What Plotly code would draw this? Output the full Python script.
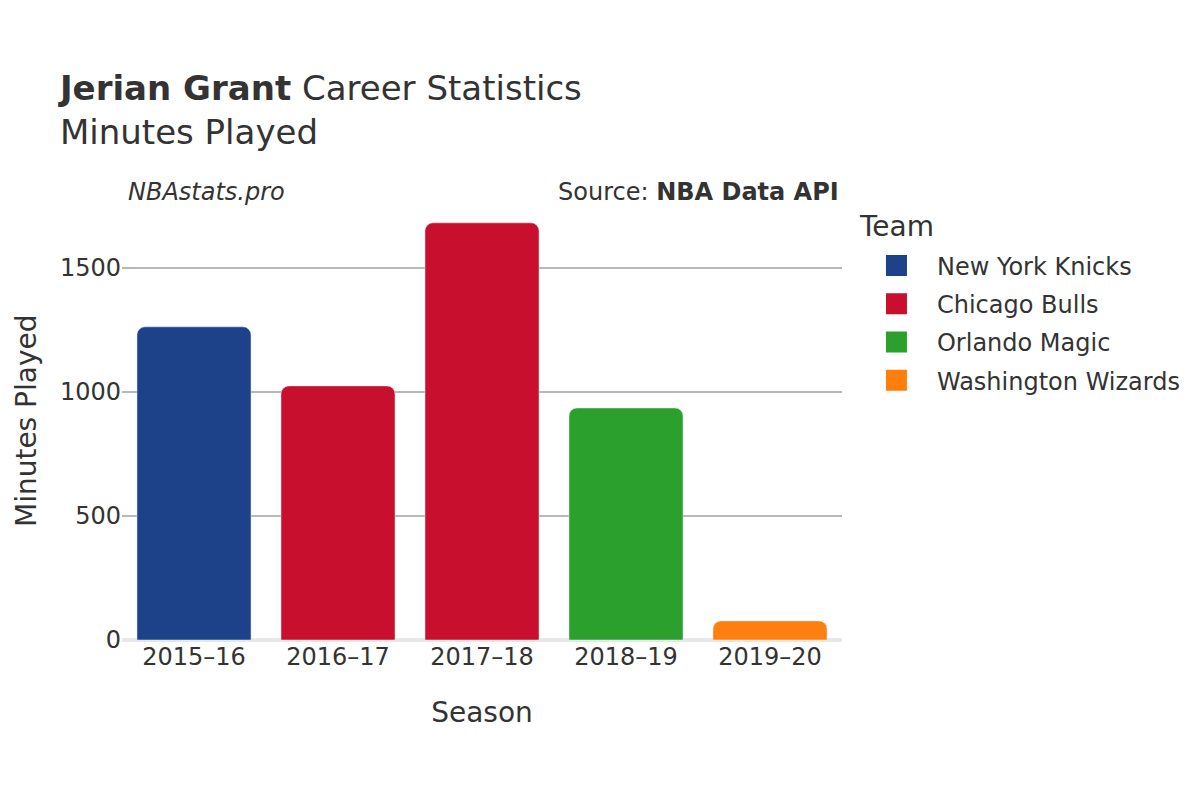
import plotly.graph_objects as go

seasons = ["2015–16", "2016–17", "2017–18", "2018–19", "2019–20"]
teams = ["New York Knicks", "Chicago Bulls", "Orlando Magic", "Washington Wizards"]
team_seasons = [["2015–16"], ["2016–17", "2017–18"], ["2018–19"], ["2019–20"]]
team_minutes = [[1262], [1024, 1681], [935], [77]]
team_colors = ["#1d428a", "#c8102e", "#2ca02c", "#ff7f0e"]

FONT = "DejaVu Sans"
fig = go.Figure()
for name, xs, ys, c in zip(teams, team_seasons, team_minutes, team_colors):
    fig.add_trace(go.Bar(x=xs, y=ys, name=name, marker_color=c,
                         legendgroup=name, showlegend=False))
for name, c in zip(teams, team_colors):
    fig.add_trace(go.Scatter(
        x=[None], y=[None], mode="markers", name=name, legendgroup=name,
        marker=dict(symbol="square", size=16, color=c,
                    line=dict(color=c, width=5)),
        hoverinfo="skip",
    ))

fig.update_layout(
    width=1200, height=800,
    font=dict(family=FONT, size=24, color="#333333"),
    paper_bgcolor="white", plot_bgcolor="white",
    barmode="relative", bargap=0.208, barcornerradius=8,
    margin=dict(l=114, r=366, t=194, b=168, autoexpand=False),
    title=dict(
        text="<b>Jerian Grant</b> Career Statistics<br>Minutes Played",
        x=0.0433, xanchor="left", y=0.885, yanchor="bottom",
        font=dict(size=34, color="#333333"),
    ),
    xaxis=dict(
        categoryorder="array", categoryarray=seasons,
        title=dict(text="Season", font=dict(size=28), standoff=32),
        showgrid=False, showline=False, automargin=False,
        ticks="", tickfont=dict(size=24),
    ),
    yaxis=dict(
        range=[0, 1765], tickvals=[0, 500, 1000, 1500],
        showgrid=True, gridcolor="#b8b8b8", gridwidth=1.5,
        zeroline=True, zerolinecolor="#e8e8e8", zerolinewidth=4,
        ticks="", tickfont=dict(size=24), automargin=False,
    ),
    legend=dict(
        x=1.0194, xanchor="left", y=0.9052, yanchor="top",
        font=dict(size=24), itemsizing="trace", itemwidth=71,
        tracegroupgap=4,
    ),
    annotations=[
        dict(text="Team", xref="paper", yref="paper",
             x=1.0208, y=0.9452, xanchor="left", yanchor="middle",
             showarrow=False, font=dict(size=28, color="#333333")),
        dict(text="Minutes Played", xref="paper", yref="paper",
             x=-0.1333, y=0.5, xanchor="center", yanchor="middle",
             textangle=-90, showarrow=False,
             font=dict(size=28, color="#333333")),
        dict(text="<i>NBAstats.pro</i>", xref="paper", yref="paper",
             x=0.0056, y=1.023, xanchor="left", yanchor="middle",
             showarrow=False, font=dict(size=24, color="#333333")),
        dict(text="Source: <b>NBA Data API</b>", xref="paper", yref="paper",
             x=0.9986, y=1.023, xanchor="right", yanchor="middle",
             showarrow=False, font=dict(size=24, color="#333333")),
    ],
)

fig.write_html("out.html")
